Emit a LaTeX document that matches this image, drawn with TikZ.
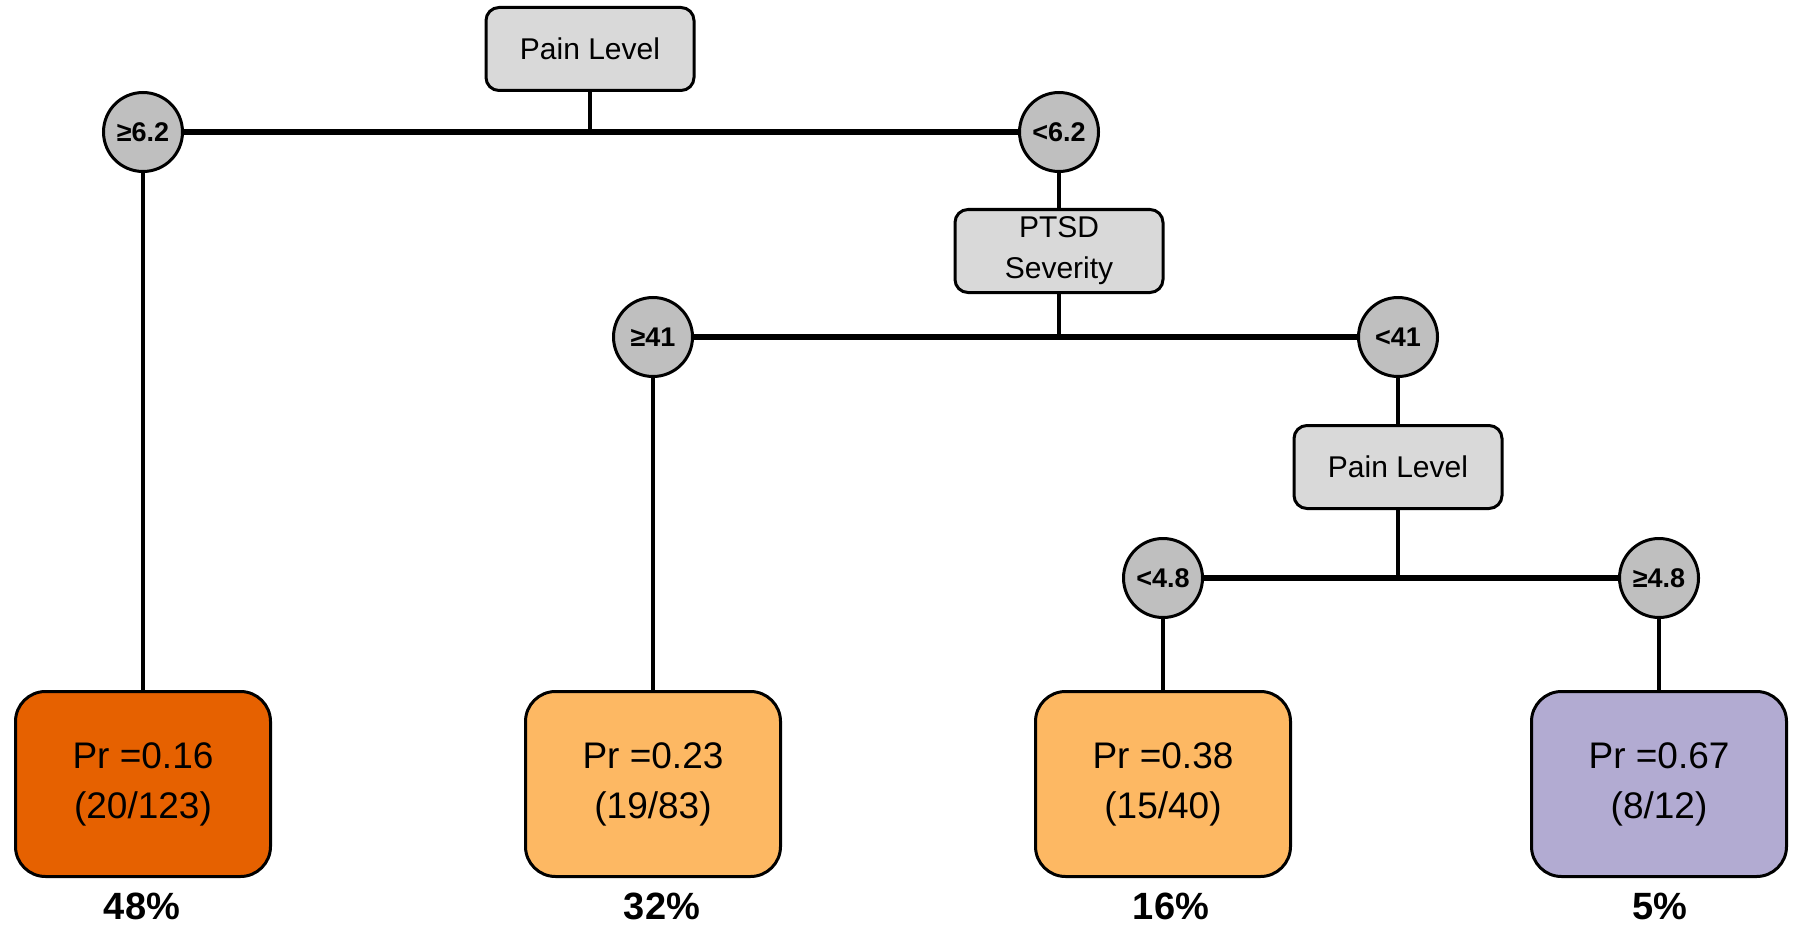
\documentclass[tikz,border=0pt]{standalone}
\usepackage{fontspec}
\setmainfont{Liberation Sans}
\definecolor{leafdark}{HTML}{E66100}
\definecolor{leaflight}{HTML}{FDB863}
\definecolor{leafpurple}{HTML}{B2ABD2}
\definecolor{splitgrey}{HTML}{D9D9D9}
\definecolor{condgrey}{HTML}{BFBFBF}
\begin{document}
\begin{tikzpicture}[x=1pt,y=-1pt,
  split/.style={draw=black, line width=3pt, fill=splitgrey, rounded corners=13pt,
    minimum width=208pt, minimum height=83pt, inner sep=0pt, align=center,
    font=\fontsize{30}{41}\selectfont},
  cond/.style={circle, draw=black, line width=3pt, fill=condgrey, minimum size=79pt,
    inner sep=0pt, font=\bfseries\fontsize{27}{30}\selectfont},
  leaf/.style={draw=black, line width=3pt, rounded corners=30pt, minimum width=255pt,
    minimum height=185pt, inner sep=0pt, align=center, font=\fontsize{37}{50}\selectfont},
  share/.style={anchor=base, inner sep=0pt, font=\bfseries\fontsize{38}{40}\selectfont},
  hline/.style={line width=6.5pt},
  vline/.style={line width=4.5pt},
]
\useasboundingbox (0,0) rectangle (1798,928);

% split and condition nodes
\node[split] (pl1)  at (590,49)   {Pain Level};
\node[cond]  (c1)   at (143,132)  {≥6.2};
\node[cond]  (c2)   at (1059,132) {<6.2};
\node[split] (ptsd) at (1059,251) {PTSD\\Severity};
\node[cond]  (c3)   at (653,337)  {≥41};
\node[cond]  (c4)   at (1398,337) {<41};
\node[split] (pl2)  at (1398,467) {Pain Level};
\node[cond]  (c5)   at (1163,578) {<4.8};
\node[cond]  (c6)   at (1659,578) {≥4.8};

% terminal nodes
\node[leaf, fill=leafdark]   (l1) at (143,784)  {Pr =0.16\\(20/123)};
\node[leaf, fill=leaflight]  (l2) at (653,784)  {Pr =0.23\\(19/83)};
\node[leaf, fill=leaflight]  (l3) at (1163,784) {Pr =0.38\\(15/40)};
\node[leaf, fill=leafpurple] (l4) at (1659,784) {Pr =0.67\\(8/12)};

% shares of the sample
\node[share] (s1) at (142,919)  {48\%};
\node[share] (s2) at (662,919)  {32\%};
\node[share] (s3) at (1171,919) {16\%};
\node[share] (s4) at (1660,919) {5\%};

% junctions of the branches
\coordinate (j1) at (pl1.south |- c1);
\coordinate (j2) at (ptsd.south |- c3);
\coordinate (j3) at (pl2.south |- c5);

% connectors
\draw[hline] (c1) -- (c2);
\draw[hline] (c3) -- (c4);
\draw[hline] (c5) -- (c6);
\draw[vline] (pl1) -- (j1);
\draw[vline] (ptsd) -- (j2);
\draw[vline] (pl2) -- (j3);
\draw[vline] (c1) -- (l1);
\draw[vline] (c2) -- (ptsd);
\draw[vline] (c3) -- (l2);
\draw[vline] (c4) -- (pl2);
\draw[vline] (c5) -- (l3);
\draw[vline] (c6) -- (l4);
\end{tikzpicture}
\end{document}
